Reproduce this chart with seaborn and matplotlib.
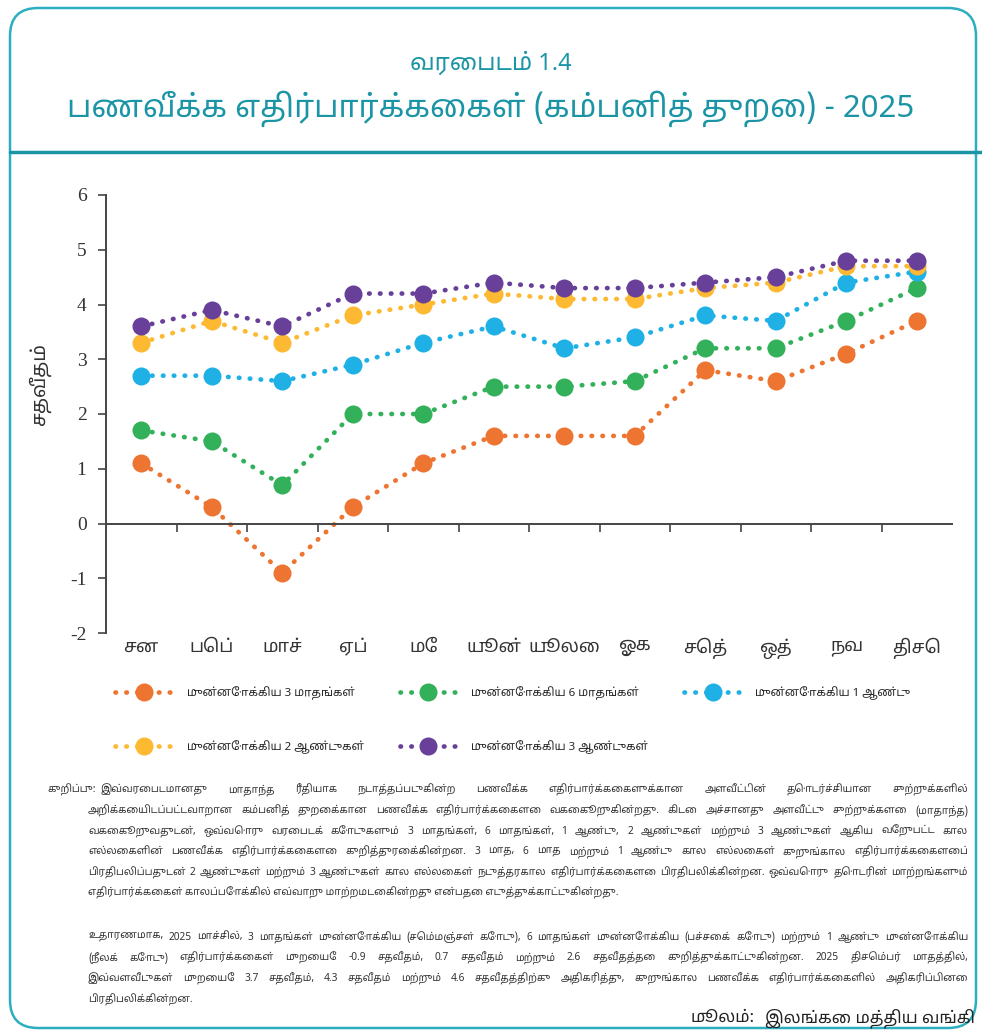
import matplotlib
matplotlib.use("Agg")
import matplotlib.pyplot as plt
from matplotlib import font_manager
from matplotlib.ft2font import FT2Font
from matplotlib.lines import Line2D
from matplotlib.patches import FancyBboxPatch
import pandas as pd
import seaborn as sns

# Monthly survey rounds (x axis) and the five horizons
months = ["சன", "பெப்", "மாச்", "ஏப்", "மே", "யூன்", "யூலை", "ஓக", "செத்", "ஒத்", "நவ", "திசெ"]
labels = ["முன்னோக்கிய 3 மாதங்கள்", "முன்னோக்கிய 6 மாதங்கள்", "முன்னோக்கிய 1 ஆண்டு",
          "முன்னோக்கிய 2 ஆண்டுகள்", "முன்னோக்கிய 3 ஆண்டுகள்"]
m3 = [1.1, 0.3, -0.9, 0.3, 1.1, 1.6, 1.6, 1.6, 2.8, 2.6, 3.1, 3.7]
m6 = [1.7, 1.5, 0.7, 2.0, 2.0, 2.5, 2.5, 2.6, 3.2, 3.2, 3.7, 4.3]
y1 = [2.7, 2.7, 2.6, 2.9, 3.3, 3.6, 3.2, 3.4, 3.8, 3.7, 4.4, 4.6]
y2 = [3.3, 3.7, 3.3, 3.8, 4.0, 4.2, 4.1, 4.1, 4.3, 4.4, 4.7, 4.7]
y3 = [3.6, 3.9, 3.6, 4.2, 4.2, 4.4, 4.3, 4.3, 4.4, 4.5, 4.8, 4.8]
colors = ["#ED7431", "#33B15A", "#1FB1E6", "#FDB932", "#684099"]
yticks = [-2, -1, 0, 1, 2, 3, 4, 5, 6]

title1 = "வரைபடம் 1.4"
title2 = "பணவீக்க எதிர்பார்க்கைகள் (கம்பனித் துறை) - 2025"
ylabel = "சதவீதம்"
note_lbl = "குறிப்பு:"
note1 = [
    "இவ்வரைபடமானது மாதாந்த ரீதியாக நடாத்தப்படுகின்ற பணவீக்க எதிர்பார்க்கைகளுக்கான அளவீட்டின் தொடர்ச்சியான சுற்றுக்களில்",
    "அறிக்கையிடப்பட்டவாறான கம்பனித் துறைக்கான பணவீக்க எதிர்பார்க்கைகளை வகைகூறுகின்றது. கிடை அச்சானது அளவீட்டு சுற்றுக்களை (மாதாந்த)",
    "வகைகூறுவதுடன், ஒவ்வொரு வரைபடக் கோடுகளும் 3 மாதங்கள், 6 மாதங்கள், 1 ஆண்டு, 2 ஆண்டுகள் மற்றும் 3 ஆண்டுகள் ஆகிய வேறுபட்ட கால",
    "எல்லைகளின் பணவீக்க எதிர்பார்க்கைகளை குறித்துரைக்கின்றன. 3 மாத, 6 மாத மற்றும் 1 ஆண்டு கால எல்லைகள் குறுங்கால எதிர்பார்க்கைகளைப்",
    "பிரதிபலிப்பதுடன் 2 ஆண்டுகள் மற்றும் 3 ஆண்டுகள் கால எல்லைகள் நடுத்தரகால எதிர்பார்க்கைகளை பிரதிபலிக்கின்றன. ஒவ்வொரு தொடரின் மாற்றங்களும்",
    "எதிர்பார்க்கைகள் காலப்போக்கில் எவ்வாறு மாற்றமடைகின்றது என்பதை எடுத்துக்காட்டுகின்றது.",
]
note2 = [
    "உதாரணமாக, 2025 மாச்சில், 3 மாதங்கள் முன்னோக்கிய (செம்மஞ்சள் கோடு), 6 மாதங்கள் முன்னோக்கிய (பச்சைக் கோடு) மற்றும் 1 ஆண்டு முன்னோக்கிய",
    "(நீலக் கோடு) எதிர்பார்க்கைகள் முறையே -0.9 சதவீதம், 0.7 சதவீதம் மற்றும் 2.6 சதவீதத்தை குறித்துக்காட்டுகின்றன. 2025 திசெம்பர் மாதத்தில்,",
    "இவ்வளவீடுகள் முறையே 3.7 சதவீதம், 4.3 சதவீதம் மற்றும் 4.6 சதவீதத்திற்கு அதிகரித்து, குறுங்கால பணவீக்க எதிர்பார்க்கைகளில் அதிகரிப்பினை",
    "பிரதிபலிக்கின்றன.",
]
source_lbl = "மூலம்:"
source_txt = "இலங்கை மத்திய வங்கி"

teal = "#1B95A6"

sns.set_style("white")


# pick an installed font that can draw Tamil, proportional ones first
def tamil_font():
    found = []
    for f in font_manager.fontManager.ttflist:
        try:
            if 0x0BA4 in FT2Font(f.fname).get_charmap():
                found.append(f.name)
        except Exception:
            pass
    found = sorted(set(found))
    for pref in ["Noto Sans Tamil", "Noto Serif Tamil", "Lohit Tamil", "FreeSerif", "FreeSans"]:
        if pref in found:
            return pref
    for n in found:
        if "mono" not in n.lower():
            return n
    return found[0] if found else None


tf = tamil_font()
fam = ([tf] if tf else []) + ["DejaVu Sans"]
plt.rcParams["font.family"] = fam

series = [m3, m6, y1, y2, y3]
df = pd.DataFrame({"idx": list(range(len(months))) * 5,
                   "value": sum(series, []),
                   "series": [l for l in labels for _ in months]})

fig = plt.figure(figsize=(9.82, 10.34), dpi=100)
ax = fig.add_axes([106 / 982, 1 - 633 / 1034, (952 - 106) / 982, (633 - 195) / 1034])

for lab, col in zip(labels, colors):
    sns.lineplot(data=df[df["series"] == lab], x="idx", y="value", ax=ax, color=col,
                 linestyle=(0, (0.1, 2.2)), linewidth=3.4, dash_capstyle="round",
                 marker="o", markersize=13, markeredgewidth=0, legend=False)

ax.set_xlim(-0.5, len(months) - 0.5)
ax.set_ylim(-2, 6)
ax.set_yticks(yticks)
ax.set_yticklabels([str(v) for v in yticks], family="Liberation Serif", fontsize=14, color="#333333")
ax.tick_params(axis="y", direction="out", length=6, width=1.2, color="#444444", pad=8, left=True)
ax.spines["bottom"].set_position(("data", 0))
for s in ["top", "right"]:
    ax.spines[s].set_visible(False)
for s in ["left", "bottom"]:
    ax.spines[s].set_color("#444444")
    ax.spines[s].set_linewidth(1.4)
ax.set_xticks([i + 0.5 for i in range(len(months) - 1)])
ax.set_xticklabels([])
ax.tick_params(axis="x", direction="out", length=6, width=1.2, color="#444444", bottom=True)
ax.set_xlabel("")
ax.set_ylabel("")
for i, m in enumerate(months):
    ax.text(i, -0.012, m, transform=ax.get_xaxis_transform(), ha="center", va="top",
            fontsize=13, color="#333333")

fig.text(40 / 982, 1 - 385 / 1034, ylabel, rotation=90, ha="center", va="center",
         fontsize=14, fontweight="bold", color="#333333")

# titles and frame
fig.text(0.5, 1 - 64 / 1034, title1, ha="center", va="center", fontsize=17, color=teal)
fig.text(0.5, 1 - 109 / 1034, title2, ha="center", va="center", fontsize=22.5,
         fontweight="bold", color=teal)
fig.add_artist(Line2D([10 / 982, 1.0], [1 - 152 / 1034] * 2, color=teal, linewidth=2.5))
fig.add_artist(FancyBboxPatch((10, 6), 966, 1020, boxstyle="round,pad=0,rounding_size=28",
                              transform=None, fill=False, edgecolor="#2BAFC0", linewidth=1.8))

# legend, row-major order across three columns
handles = [Line2D([], [], color=c, linestyle=(0, (0.1, 2.2)), linewidth=3.4,
                  dash_capstyle="round", marker="o", markersize=13, markeredgewidth=0)
           for c in colors]
order = [0, 3, 1, 4, 2]
fig.legend([handles[i] for i in order], [labels[i] for i in order], ncol=3,
           loc="upper left", bbox_to_anchor=(105 / 982, 1 - 676 / 1034), frameon=False,
           handlelength=5, handletextpad=1.2, columnspacing=3.1,
           labelspacing=3.5, numpoints=1, prop={"weight": "bold", "size": 8.3})

# notes, justified between x=88 and x=968
renderer = fig.canvas.get_renderer()
fs_note = 7.3
right_edge = 968


def put_line(x0, y, line, justify):
    if not justify:
        fig.text(x0 / 982, 1 - y / 1034, line, ha="left", va="center",
                 fontsize=fs_note, color="#333333")
        return
    words = line.split(" ")
    items = [fig.text(0, 1 - y / 1034, w, ha="left", va="center",
                      fontsize=fs_note, color="#333333") for w in words]
    widths = [t.get_window_extent(renderer).width for t in items]
    gap = (right_edge - x0 - sum(widths)) / max(len(words) - 1, 1)
    x = x0
    for t, w in zip(items, widths):
        t.set_x(x / 982)
        x += w + gap


lab = fig.text(48 / 982, 1 - 790 / 1034, note_lbl, ha="left", va="center",
               fontsize=fs_note, color="#333333")
lab_right = lab.get_window_extent(renderer).x1 + 4
x_first = max(88, lab_right)
for k, line in enumerate(note1):
    x0 = x_first if k == 0 else 88
    put_line(x0, 790 + k * 20.6, line, k < len(note1) - 1)
for k, line in enumerate(note2):
    put_line(88, 937 + k * 20.8, line, k < len(note2) - 1)

src = fig.text(975 / 982, 1 - 1018 / 1034, source_txt, ha="right", va="center",
               fontsize=12, color="#222222")
src_left = src.get_window_extent(renderer).x0 - 10
fig.text(src_left / 982, 1 - 1018 / 1034, source_lbl, ha="right", va="center", fontsize=12,
         style="italic", color="#222222")

fig.savefig("out.png", dpi=100)
